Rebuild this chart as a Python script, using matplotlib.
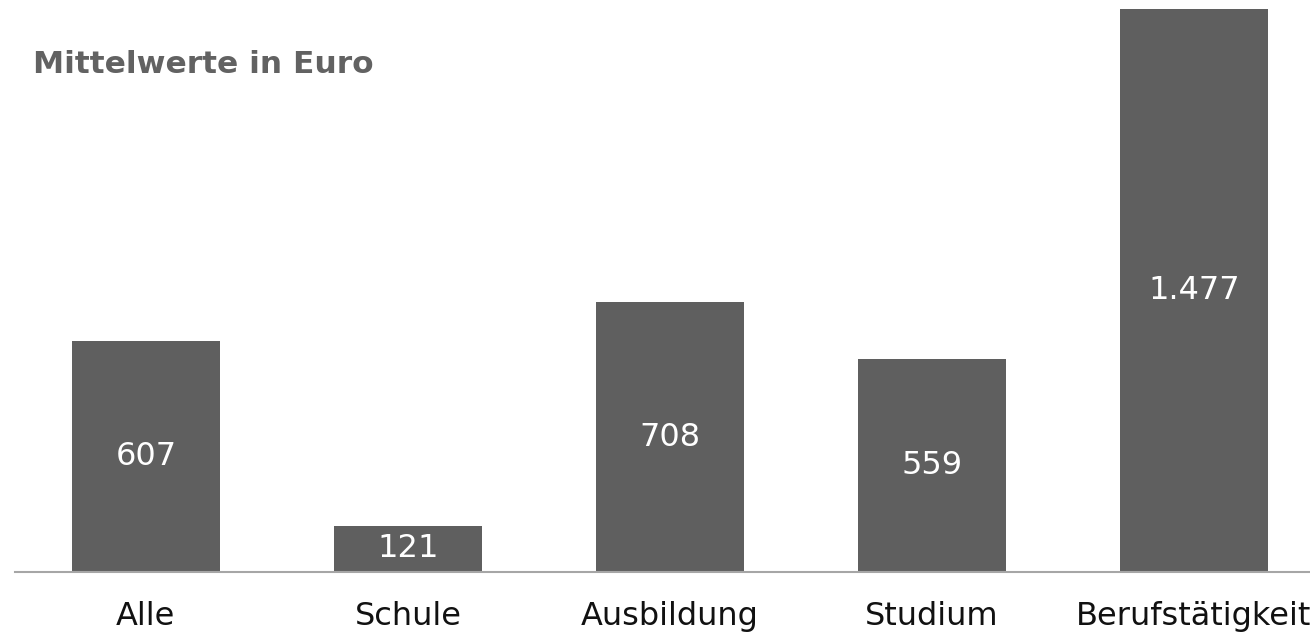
import matplotlib.pyplot as plt

# mean values per group, in euro
categories = ['Alle', 'Schule', 'Ausbildung', 'Studium', 'Berufstätigkeit']
values = [607, 121, 708, 559, 1477]
value_labels = ['607', '121', '708', '559', '1.477']

bar_color = '#5f5f5f'

fig = plt.figure(figsize=(13.1, 6.32), dpi=100)
ax = fig.add_axes([0, 60 / 632, 1, 572 / 632])

x = range(len(categories))
bars = ax.bar(x, values, width=0.565, color=bar_color)

# value labels in the middle of each bar
for b, lab in zip(bars, value_labels):
    ax.text(b.get_x() + b.get_width() / 2, b.get_height() / 2, lab,
            ha='center', va='center', color='white', fontsize=23)

ax.set_xlim(-0.557, 4.443)
ax.set_ylim(0, 1501)

ax.set_xticks(list(x))
ax.set_xticklabels(categories, fontsize=23, color='#111111')
ax.tick_params(axis='x', length=0, pad=21)
ax.set_yticks([])

for s in ['top', 'right', 'left']:
    ax.spines[s].set_visible(False)
ax.spines['bottom'].set_color('#a6a6a6')
ax.spines['bottom'].set_linewidth(1.5)
ax.spines['bottom'].set_bounds(-0.5, 4.443)

fig.text(33 / 1310, 1 - 73 / 632, 'Mittelwerte in Euro', fontsize=22.5,
         fontweight='bold', color='#626262', ha='left', va='baseline')

fig.savefig('out.png', dpi=100)
